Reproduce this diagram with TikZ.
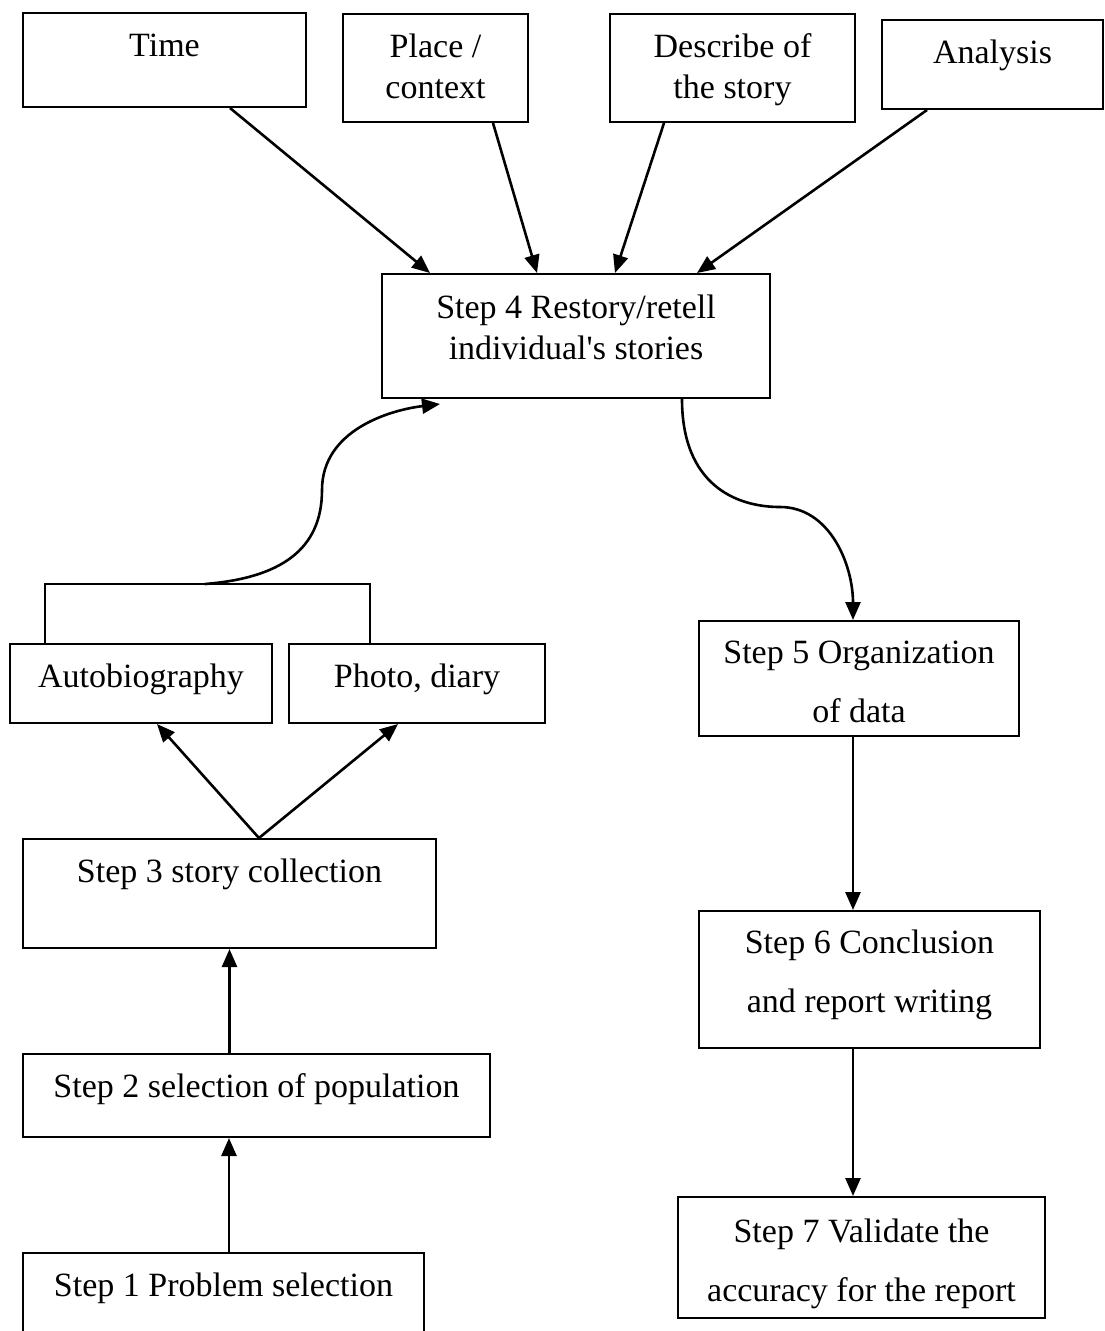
\documentclass[tikz,border=0pt]{standalone}
\usepackage{fontspec}
\setmainfont{Liberation Serif}
\usetikzlibrary{arrows.meta,positioning,calc}

\begin{document}
\begin{tikzpicture}[
  x=1pt,y=-1pt,
  >={Triangle[length=18pt,width=15pt]},
  every node/.style={font=\fontsize{34pt}{41pt}\selectfont},
  stepbox/.style={draw,line width=2pt,anchor=north,inner xsep=0pt,inner ysep=0pt,
                  text height=43pt,align=center},
  wide/.style={font=\fontsize{34pt}{59pt}\selectfont},
  conn/.style={->,line width=2.6pt}
]
\useasboundingbox (0,0) rectangle (1104,1331);

% top row
\node[stepbox,minimum width=283pt,text depth=51pt] (time) at (164.5,12) {Time};
\node[stepbox,minimum width=185pt,text height=84pt,text depth=24pt] (place) at (435.5,13) {Place /\\context};
\node[stepbox,minimum width=245pt,text height=84pt,text depth=24pt] (describe) at (732.5,13) {Describe of\\the story};
\node[stepbox,minimum width=221pt,text depth=46pt] (analysis) at (992.5,19) {Analysis};

\node[stepbox,minimum width=388pt,text height=85pt,text depth=39pt] (step4) at (576,273)
   {Step 4 Restory/retell\\individual\textquotesingle s stories};

% left column
\node[stepbox,minimum width=262pt,text depth=36pt] (autobio) at (141,643) {Autobiography};
\node[stepbox,minimum width=256pt,text depth=36pt] (photo) at (417,643) {Photo, diary};
\node[stepbox,minimum width=413pt,text depth=66pt] (step3) at (229.5,838) {Step 3 story collection};
\node[stepbox,minimum width=467pt,text depth=40pt] (step2) at (256.5,1053) {Step 2 selection of population};
\node[stepbox,minimum width=401pt,text depth=50pt] (step1) at (223.5,1252) {Step 1 Problem selection};

% right column
\node[stepbox,wide,minimum width=320pt,text height=101pt,text depth=14pt] (step5) at (859,620) {Step 5 Organization\\of data};
\node[stepbox,wide,minimum width=341pt,text height=101pt,text depth=36pt] (step6) at (869.5,910) {Step 6 Conclusion\\and report writing};
\node[stepbox,wide,minimum width=367pt,text height=104pt,text depth=17pt] (step7) at (861.5,1196) {Step 7 Validate the\\accuracy for the report};

% into step 4
\draw[conn] ([xshift=65.5pt]time.south) -- ([xshift=-146pt]step4.north);
\draw[conn] ([xshift=57.5pt]place.south) -- ([xshift=-39pt]step4.north);
\draw[conn] ([xshift=-68.5pt]describe.south) -- ([xshift=39pt]step4.north);
\draw[conn] ([xshift=-65.5pt]analysis.south) -- ([xshift=121pt]step4.north);

% bracket over the two sources
\draw[line width=1.5pt] ([xshift=-96pt]autobio.north) -- ++(0,-59) coordinate (brkL)
   -| ([xshift=-47pt]photo.north);
\coordinate (brk) at ($(brkL)+(160,0)$);
\draw[conn] (brk) .. controls +(75,-6) and +(0,60) .. ++(117,-94)
   .. controls +(0,-60) and +(-50,6) .. ([xshift=-136pt,yshift=-5pt]step4.south);

\draw[conn] ([xshift=106pt]step4.south) .. controls +(0,85) and +(-45,0) .. (780,507)
   .. controls +(50,0) and +(0,-55) .. ([xshift=-6pt]step5.north);

\draw[conn] ([xshift=29.5pt]step3.north) -- ([xshift=16pt]autobio.south);
\draw[conn] ([xshift=29.5pt]step3.north) -- ([xshift=-19pt]photo.south);
\draw[conn] (step2.north -| step3.south) -- (step3.south);
\draw[conn] ([xshift=5.5pt]step1.north) -- ([xshift=5.5pt]step1.north |- step2.south);

\draw[conn] ([xshift=-6pt]step5.south) -- ([xshift=-6pt]step5.south |- step6.north);
\draw[conn] ([xshift=-16.5pt]step6.south) -- ([xshift=-16.5pt]step6.south |- step7.north);
\end{tikzpicture}
\end{document}
